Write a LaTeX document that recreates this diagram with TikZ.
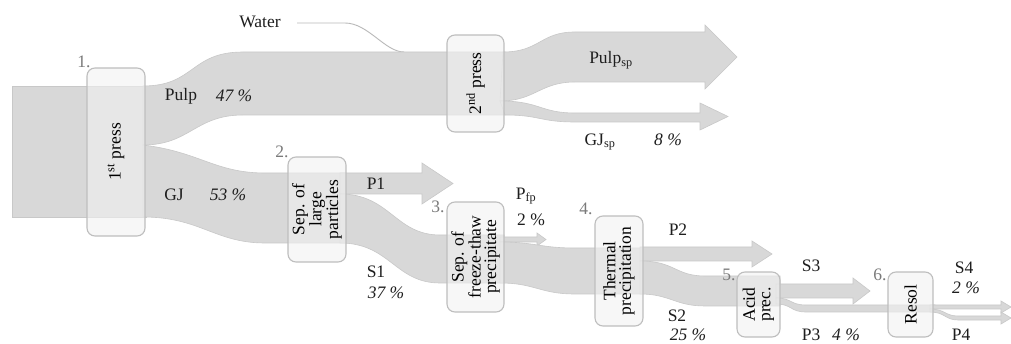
\documentclass[tikz,border=0pt]{standalone}
\usepackage{fontspec}
\setmainfont{Liberation Serif}
\begin{document}
\begin{tikzpicture}[x=1pt,y=-1pt,
  flow/.style={fill=flowgray,draw=flowedge,line width=0.6pt},
  box/.style={draw=boxedge,line width=1.1pt,fill=gray!10,fill opacity=0.6,text opacity=1,
     rounded corners=8pt,rotate=90,align=center,inner sep=0pt,
     font=\fontsize{17.5}{15.5}\selectfont},
  lbl/.style={text=labelblack,font=\fontsize{17.5}{20}\selectfont,inner sep=0pt},
  num/.style={text=numgray,font=\fontsize{17.5}{20}\selectfont,inner sep=0pt}]
\definecolor{flowgray}{HTML}{D8D8D8}
\definecolor{flowedge}{HTML}{C8C8C8}
\definecolor{boxedge}{HTML}{BEBEBE}
\definecolor{labelblack}{HTML}{1E1E1E}
\definecolor{numgray}{HTML}{7A7A7A}
\useasboundingbox (0,0) rectangle (1011,344);
\fill[white] (0,0) rectangle (1011,344);
% water line
\node[lbl] (water) at (260,22) {Water};
\coordinate (wstart) at (297,23);
\coordinate (wend) at (404,52);
\draw[draw=gray!55,line width=0.9pt] (wstart) -- (345,23) .. controls (368,23) and (385,52) .. (wend);
% flows
\draw[flow] (12,86) rectangle (146,217);
\draw[flow] (143,86) .. controls (195,86) and (190,52) .. (243,52) -- (505,52) -- (505,115)
   -- (243,115) .. controls (195,115) and (190,145) .. (143,145) -- cycle;
\draw[flow] (143,145) .. controls (200,152) and (215,173) .. (265,173) -- (346,173) -- (346,243)
   -- (265,243) .. controls (215,243) and (200,217) .. (143,217) -- cycle;
% Pulp_sp
\draw[flow] (503,52) .. controls (540,52) and (540,32) .. (575,32) -- (705,32) -- (705,25)
   -- (737,57) -- (705,89) -- (705,82) -- (575,82) .. controls (540,82) and (535,101) .. (500,101) -- cycle;
% GJ_sp
\draw[flow] (500,101) .. controls (540,101) and (540,113) .. (575,113) -- (700,113) -- (700,103)
   -- (728,116.5) -- (700,130) -- (700,122) -- (575,122) .. controls (540,122) and (540,115) .. (505,115) -- cycle;
% P1
\draw[flow] (340,173) -- (422,173) -- (422,163) -- (453,183.5) -- (422,204) -- (422,194) -- (340,194) -- cycle;
% S1
\draw[flow] (340,194) .. controls (390,194) and (395,235) .. (440,235) -- (504,235) -- (504,283)
   -- (440,283) .. controls (395,283) and (390,243) .. (340,243) -- cycle;
% Pfp
\draw[flow] (500,237) -- (537,237) -- (537,233) -- (546,239.5) -- (537,246) -- (537,242) -- (500,242) -- cycle;
% flow 3 -> 4
\draw[flow] (500,242) .. controls (535,242) and (540,248) .. (575,248) -- (643,248) -- (643,294)
   -- (575,294) .. controls (540,294) and (535,283) .. (500,283) -- cycle;
% P2
\draw[flow] (640,247) -- (752,247) -- (752,241) -- (772,254) -- (752,267) -- (752,261) -- (640,261) -- cycle;
% S2
\draw[flow] (640,261) .. controls (675,261) and (675,276) .. (705,276) -- (780,276) -- (780,306)
   -- (705,306) .. controls (675,306) and (670,294) .. (640,294) -- cycle;
% S3
\draw[flow] (776,284) -- (853,284) -- (853,278) -- (870,291) -- (853,304) -- (853,298) -- (776,298) -- cycle;
% P3
\draw[flow] (776,298) .. controls (792,298) and (790,305) .. (806,305) -- (935,305) -- (935,312)
   -- (806,312) .. controls (790,312) and (792,304) .. (776,304) -- cycle;
% S4
\draw[flow] (930,305) -- (1001,305) -- (1001,301) -- (1011,307) -- (1001,313) -- (1001,309) -- (930,309) -- cycle;
% P4
\draw[flow] (930,309) .. controls (945,309) and (945,316) .. (958,316) -- (1001,316) -- (1001,312)
   -- (1011,318) -- (1001,324) -- (1001,320) -- (958,320) .. controls (945,320) and (945,312) .. (930,312) -- cycle;
% boxes
\node[box,minimum width=168pt,minimum height=58pt] (b1) at (116,152) {1\textsuperscript{st} press};
\node[box,minimum width=97pt,minimum height=57pt] (b2) at (475.5,83.5) {2\textsuperscript{nd} press};
\node[box,minimum width=105pt,minimum height=58pt] (b3) at (317,209.5) {Sep. of\\large\\particles};
\node[box,minimum width=110pt,minimum height=57pt] (b4) at (475.5,257) {Sep. of\\freeze-thaw\\precipitate};
\node[box,minimum width=110pt,minimum height=48pt] (b5) at (619,271) {Thermal\\precipitation};
\node[box,minimum width=65pt,minimum height=43pt] (b6) at (758.5,304.5) {Acid\\prec.};
\node[box,minimum width=65pt,minimum height=45pt] (b7) at (910.5,304.5) {Resol};
% step numbers
\node[num] (n1) at (84,62) {1.};
\node[num] (n2) at (282,152) {2.};
\node[num] (n3) at (438,207) {3.};
\node[num] (n4) at (586,209) {4.};
\node[num] (n5) at (729,275) {5.};
\node[num] (n6) at (880,275) {6.};
% labels
\node[lbl] (lpulp) at (181,96) {Pulp};
\node[lbl] (ppulp) at (234,96) {\textit{47 \%}};
\node[lbl] (lgj) at (174,195) {GJ};
\node[lbl] (pgj) at (228,195) {\textit{53 \%}};
\node[lbl] (lpulpsp) at (611,60) {Pulp\textsubscript{sp}};
\node[lbl] (lgjsp) at (600,142) {GJ\textsubscript{sp}};
\node[lbl] (pgjsp) at (668,140) {\textit{8 \%}};
\node[lbl] (lp1) at (376,184) {P1};
\node[lbl] (lpfp) at (526,196) {P\textsubscript{fp}};
\node[lbl] (ppfp) at (531,220) {2 \%};
\node[lbl] (ls1) at (376,272) {S1};
\node[lbl] (ps1) at (386,293) {\textit{37 \%}};
\node[lbl] (lp2) at (678,230) {P2};
\node[lbl] (ls2) at (677,316) {S2};
\node[lbl] (ps2) at (688,335) {\textit{25 \%}};
\node[lbl] (ls3) at (811,266) {S3};
\node[lbl] (lp3) at (811,334.5) {P3};
\node[lbl] (pp3) at (846,334.5) {\textit{4 \%}};
\node[lbl] (ls4) at (964,268) {S4};
\node[lbl] (ps4) at (966,288) {\textit{2 \%}};
\node[lbl] (lp4) at (961,334.5) {P4};
\end{tikzpicture}
\end{document}
